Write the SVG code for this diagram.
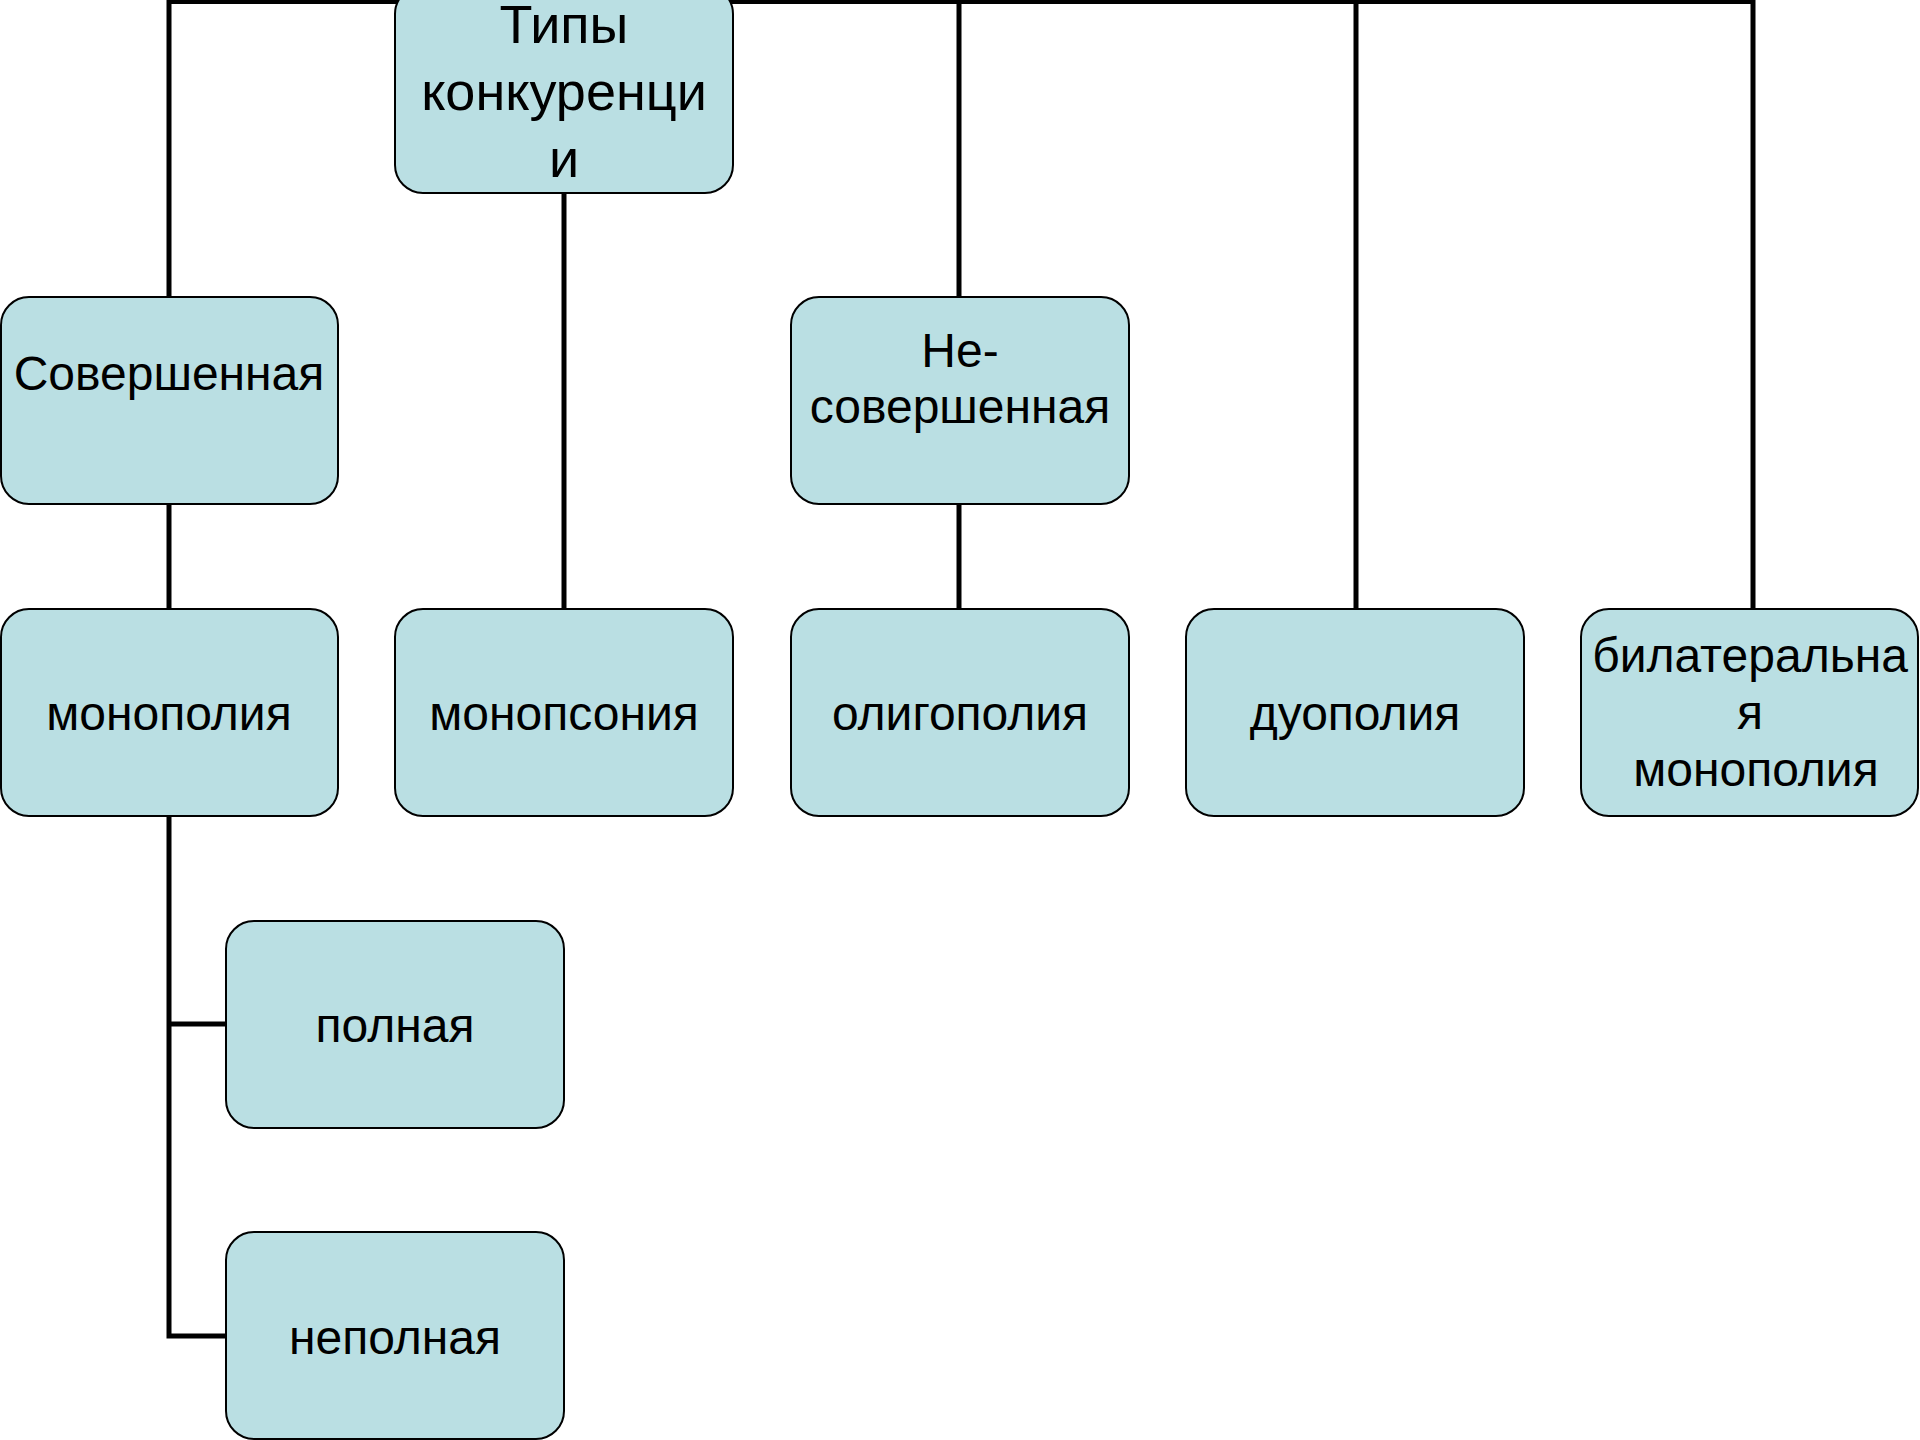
<svg xmlns="http://www.w3.org/2000/svg" width="1920" height="1440" viewBox="0 0 1920 1440">
<style>
.box{fill:#BADFE3;stroke:#000;stroke-width:2}
.t{font-family:"Liberation Sans",Arial,sans-serif;font-size:48px;fill:#000;text-anchor:middle}
.big{font-size:54px}
.c{fill:none;stroke:#000;stroke-width:5}
</style>
<rect width="1920" height="1440" fill="#fff"/>
<g id="connectors">
<path class="c" d="M169,297 V1.5 H1753 V608"/>
<path class="c" d="M564,193 V608"/>
<path class="c" d="M959,1.5 V297"/>
<path class="c" d="M1356,1.5 V608"/>
<path class="c" d="M169,505 V608"/>
<path class="c" d="M959,505 V608"/>
<path class="c" d="M169,817 V1336 H225 M169,1024 H225"/>
</g>
<g id="root">
<rect class="box" x="395" y="-14" width="338" height="207" rx="28"/>
<text class="t big" x="564" y="43">Типы</text>
<text class="t big" x="564" y="110">конкуренци</text>
<text class="t big" x="564" y="177">и</text>
</g>
<g id="perfect">
<rect class="box" x="1" y="297" width="337" height="207" rx="28"/>
<text class="t" x="169" y="390">Совершенная</text>
</g>
<g id="imperfect">
<rect class="box" x="791" y="297" width="338" height="207" rx="28"/>
<text class="t" x="960" y="367">Не-</text>
<text class="t" x="960" y="423">совершенная</text>
</g>
<g id="monopoly">
<rect class="box" x="1" y="609" width="337" height="207" rx="28"/>
<text class="t" x="169" y="730">монополия</text>
</g>
<g id="monopsony">
<rect class="box" x="395" y="609" width="338" height="207" rx="28"/>
<text class="t" x="564" y="730">монопсония</text>
</g>
<g id="oligopoly">
<rect class="box" x="791" y="609" width="338" height="207" rx="28"/>
<text class="t" x="960" y="730">олигополия</text>
</g>
<g id="duopoly">
<rect class="box" x="1186" y="609" width="338" height="207" rx="28"/>
<text class="t" x="1355" y="730">дуополия</text>
</g>
<g id="bilateral">
<rect class="box" x="1581" y="609" width="337" height="207" rx="28"/>
<text class="t" x="1750" y="672">билатеральна</text>
<text class="t" x="1750" y="729">я</text>
<text class="t" x="1756" y="786">монополия</text>
</g>
<g id="full">
<rect class="box" x="226" y="921" width="338" height="207" rx="28"/>
<text class="t" x="395" y="1042">полная</text>
</g>
<g id="partial">
<rect class="box" x="226" y="1232" width="338" height="207" rx="28"/>
<text class="t" x="395" y="1354">неполная</text>
</g>
</svg>
